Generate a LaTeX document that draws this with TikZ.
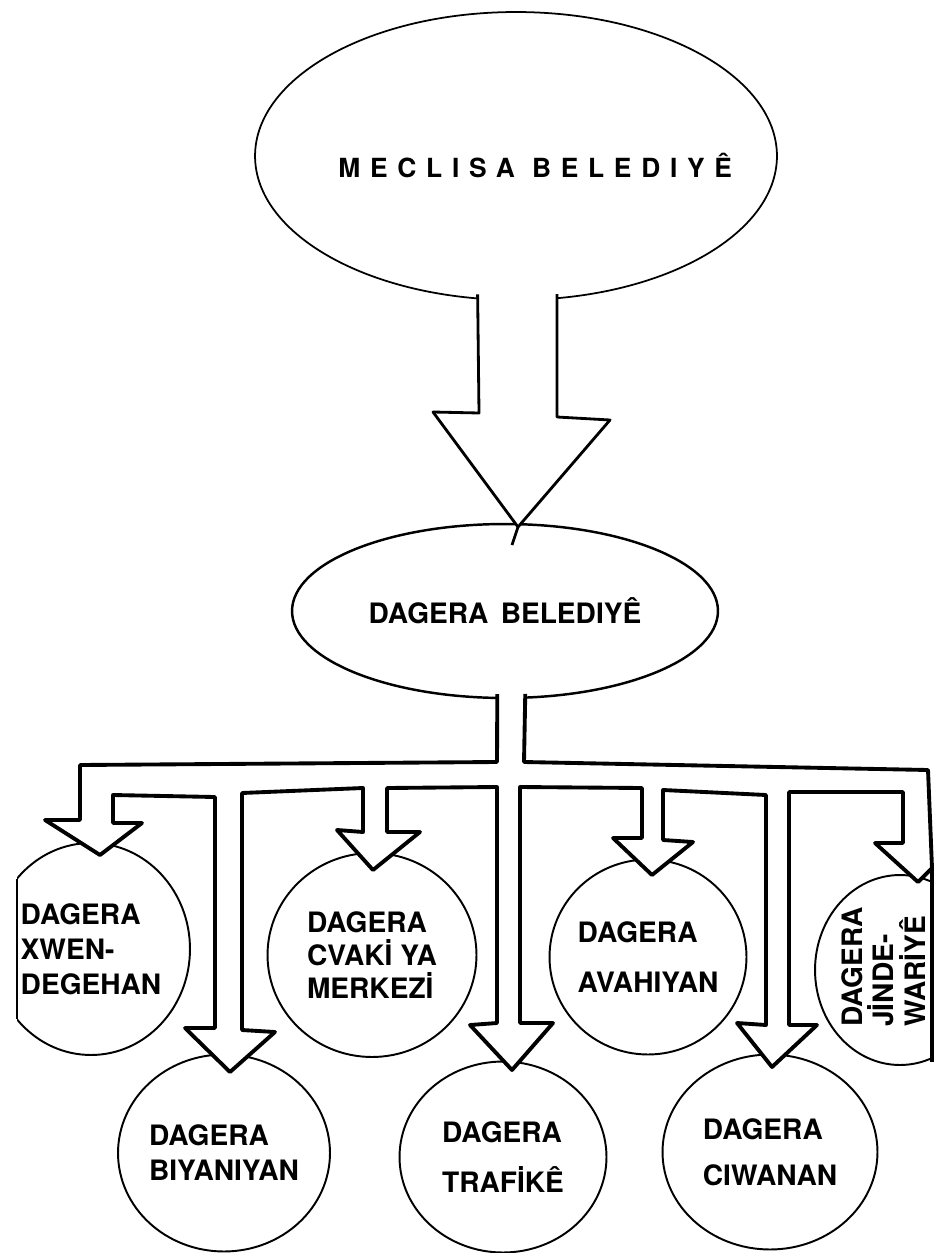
\documentclass[tikz,border=0pt]{standalone}
\usepackage{fontspec}
\setmainfont{TeX Gyre Heros}
\newfontfamily\spacedfont[LetterSpace=37]{TeX Gyre Heros}
\usetikzlibrary{calc,shapes.geometric}

\tikzset{
  boss/.style={draw, ellipse, line width=1pt, inner sep=0pt},
  dept/.style={draw, ellipse, line width=1.1pt, inner sep=-4pt, align=left,
    font=\bfseries\fontsize{16}{20}\selectfont},
  pipe/.style={draw, fill=white, line width=2.2pt, line join=round},
  arrowline/.style={draw, fill=white, line width=1.6pt, line join=round},
}

\begin{document}
\begin{tikzpicture}[x=0.02cm, y=-0.02cm]
  \useasboundingbox (0,0) rectangle (942,1253);

  %%%%% meclis %%%%%
  \node[boss, minimum width=10.44cm, minimum height=5.76cm] (meclis) at (516,156) {};
  \node[anchor=west, inner sep=0pt, font=\spacedfont\bfseries\fontsize{15}{17}\selectfont] (meclistxt) at (338,166) {MECLISA BELEDIYÊ};

  \node[boss, line width=1.4pt, minimum width=8.52cm, minimum height=3.48cm,
    font=\bfseries\fontsize{16}{20}\selectfont] (belediye) at (505,611) {DAGERA\hspace{7pt}BELEDIYÊ};

  \draw[arrowline] ($(meclis.-105)+(0,-5)$) -- (479,413) -- (433,412) -- (518,527) -- (610,420) -- (557,417) -- ($(meclis.-74)+(0,-5)$);
  \draw[line width=1.6pt] (518,527) -- (512,545);

  %%%%% dageran %%%%%
  \begin{scope}
    \clip (17,0) rectangle (932,1253);
    \node[dept, minimum width=3.96cm, minimum height=4.24cm] (xwen) at (91,949) {DAGERA\\XWEN-\\DEGEHAN};
    \node[dept, minimum width=3.4cm, minimum height=3.8cm] (jinde) at (900,970) {};
  \end{scope}
  \draw[line width=1.4pt] (17,879) -- (17,1019);

  \node[dept, minimum width=4.18cm, minimum height=4.08cm] (cvaki) at (372,955) {DAGERA\\[-1pt]CVAKİ YA\\[-1pt]MERKEZİ};
  \node[dept, minimum width=3.94cm, minimum height=3.9cm] (avahiyan) at (648,957) {DAGERA\\[8pt]AVAHIYAN};
  \node[dept, minimum width=4.24cm, minimum height=3.94cm] (biyaniyan) at (224,1153) {DAGERA\\BIYANIYAN};
  \node[dept, minimum width=4.14cm, minimum height=3.82cm] (trafike) at (503,1157) {DAGERA\\[8pt]TRAFİKÊ};
  \node[dept, minimum width=4.3cm, minimum height=3.9cm] (ciwanan) at (770,1152) {DAGERA\\[6pt]CIWANAN};

  \node[rotate=90, anchor=north west, inner sep=0pt, align=left,
    font=\bfseries\fontsize{16}{18}\selectfont] (jindetxt) at (841,1027) {DAGERA\\JİNDE-\\WARİYÊ};

  %%%%% pipe %%%%%
  \draw[pipe] ($(belediye.-95)+(0,-5)$) -- (497,762) -- (80,765)
    -- (80,820) -- (45,820) -- (100,855) -- (142,823) -- (113,823) -- (113,795)
    -- (215,797) -- (215,1028) -- (185,1028) -- (230,1072) -- (275,1032) -- (242,1030) -- (242,793)
    -- (363,788) -- (363,832) -- (337,830) -- (373,870) -- (420,832) -- (387,832) -- (387,788)
    -- (497,787) -- (497,1023) -- (470,1025) -- (512,1070) -- (553,1023) -- (520,1023) -- (520,787)
    -- (642,788) -- (642,838) -- (613,838) -- (652,875) -- (693,842) -- (663,840) -- (663,790)
    -- (766,795) -- (766,1025) -- (737,1023) -- (772,1067) -- (817,1025) -- (789,1025) -- (789,792)
    -- (903,792) -- (903,843) -- (875,843) -- (918,882) -- (932,868)
    -- (928,770) -- (524,762) -- ($(belediye.-77)+(0,-5)$);
  \draw[line width=2.2pt] (932,868) -- (932,1062);

\end{tikzpicture}
\end{document}
